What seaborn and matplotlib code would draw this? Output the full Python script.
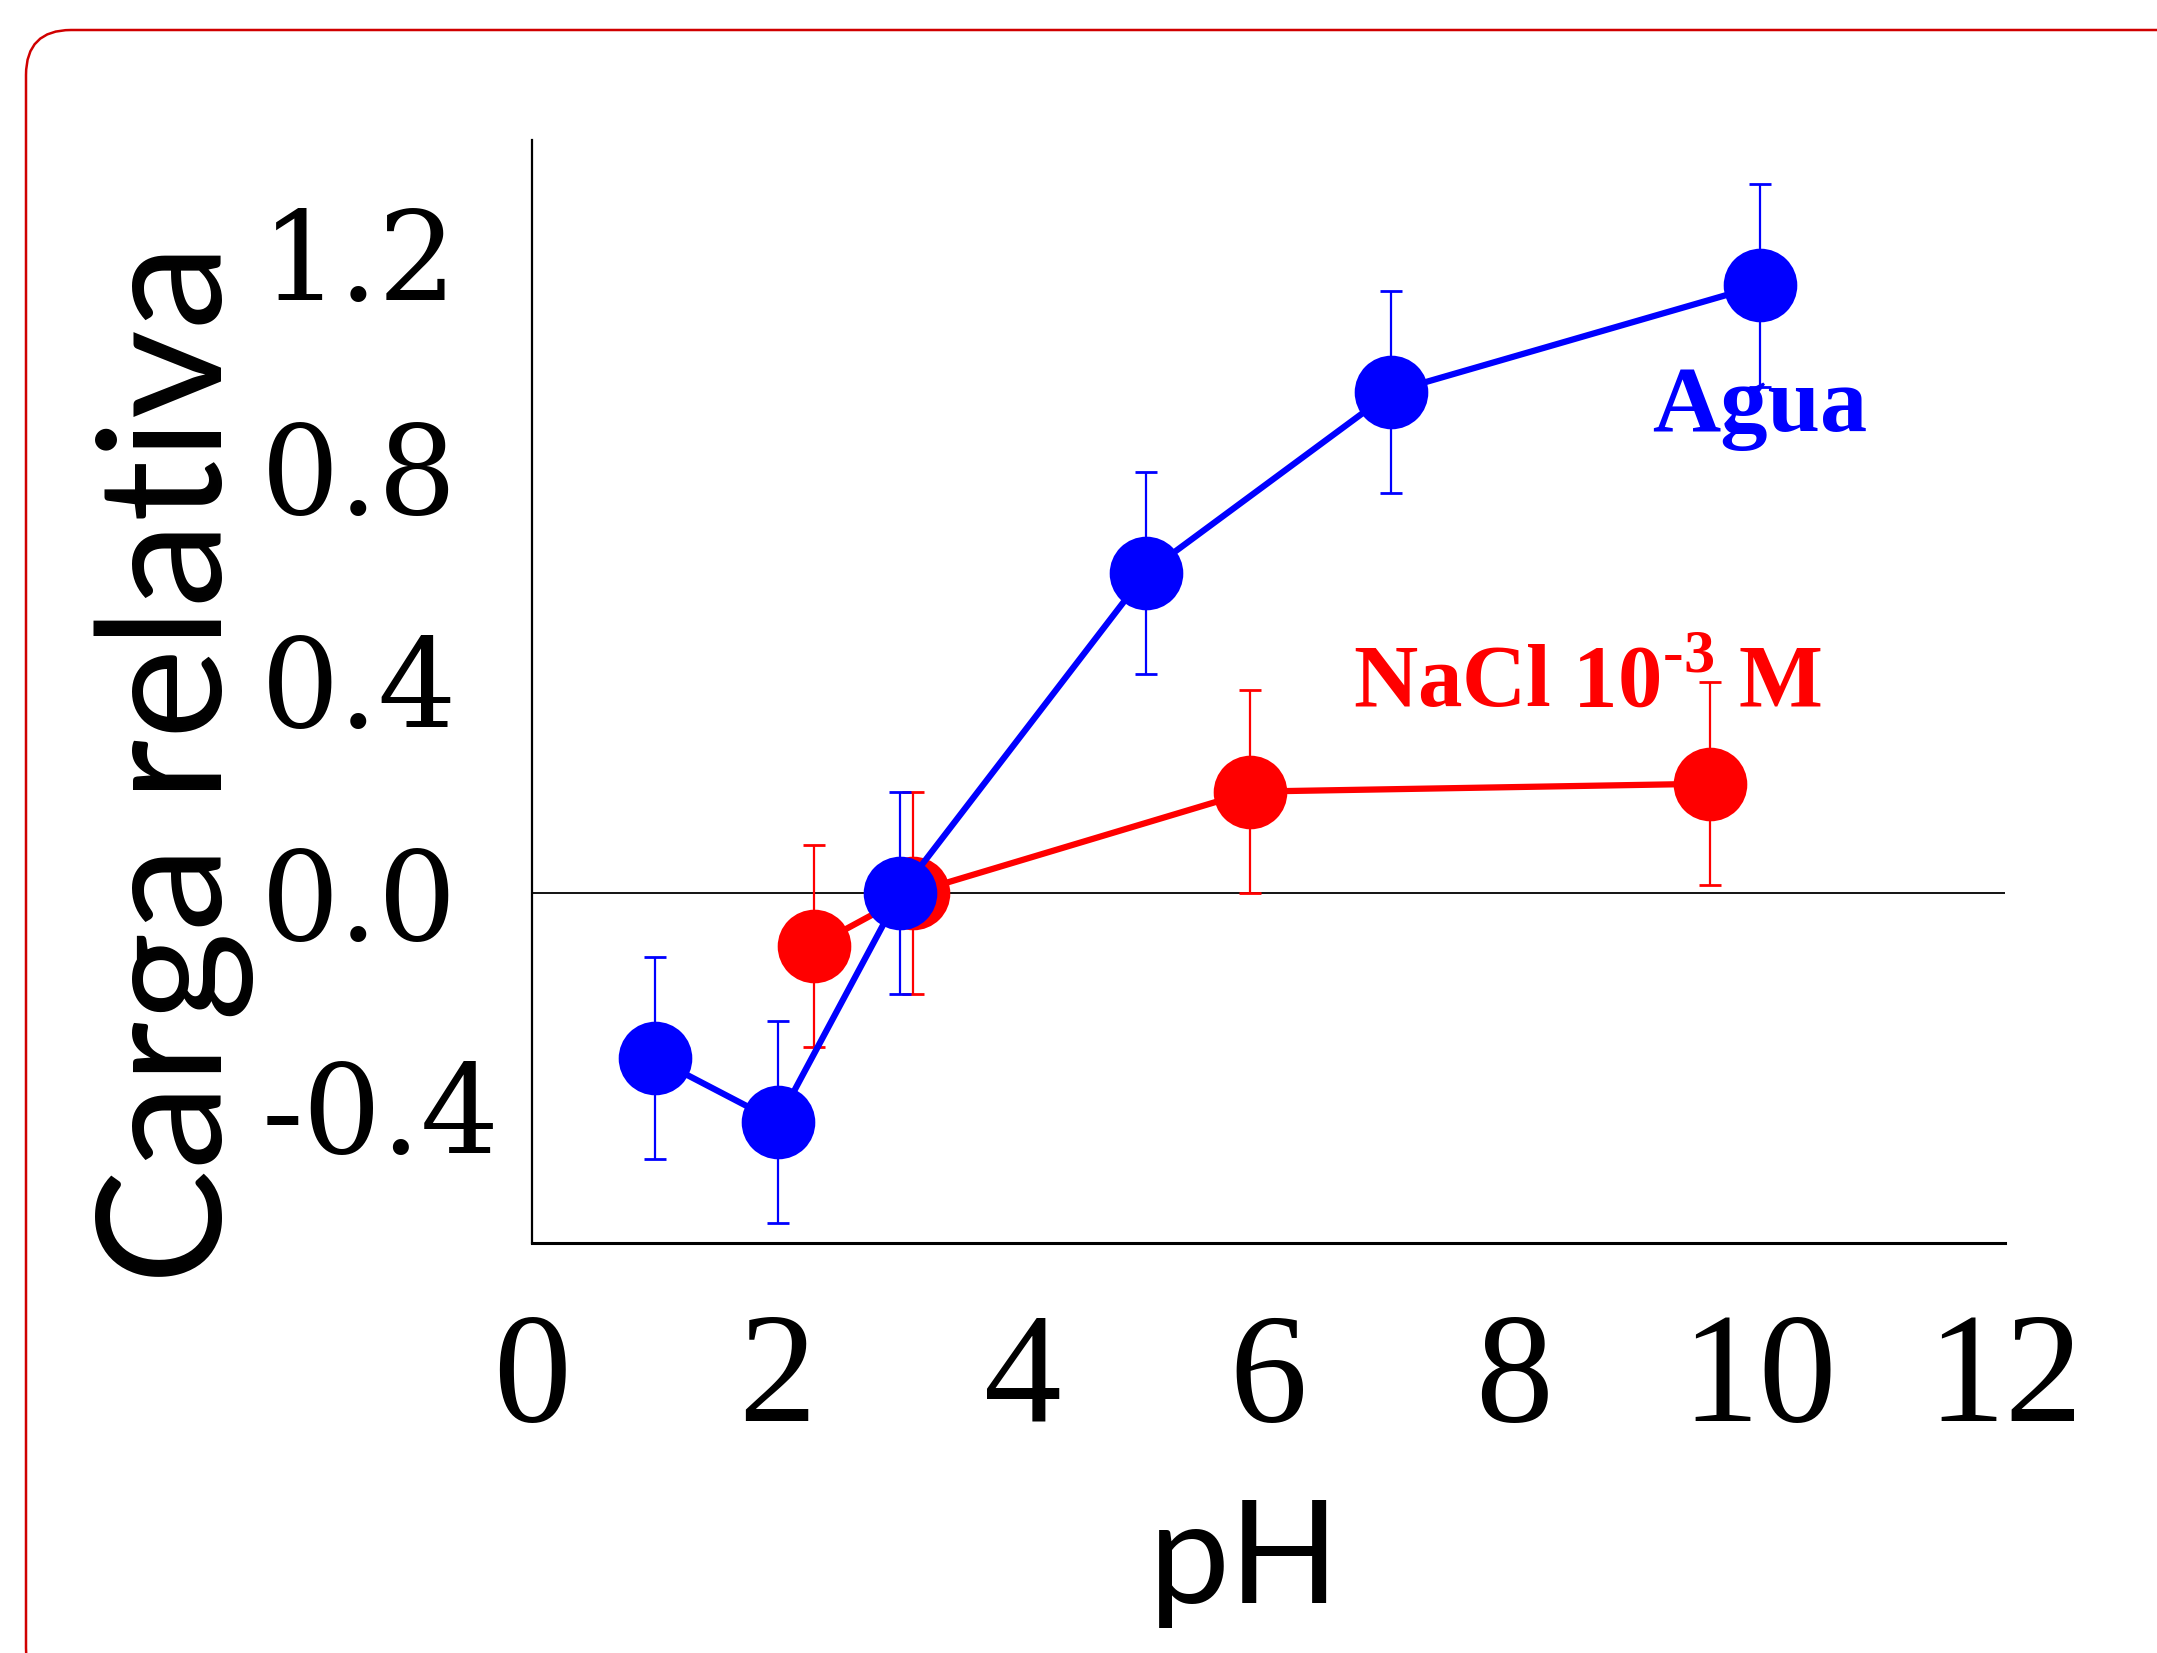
import matplotlib
matplotlib.use("Agg")
import matplotlib.pyplot as plt
from matplotlib.patches import FancyBboxPatch
from matplotlib.transforms import IdentityTransform
import seaborn as sns
import pandas as pd

# ---- data ----
agua_ph = [1.0, 2.0, 3.0, 5.0, 7.0, 10.0]
agua_carga = [-0.31, -0.43, 0.0, 0.60, 0.94, 1.14]
agua_err = [0.19, 0.19, 0.19, 0.19, 0.19, 0.19]

nacl_ph = [2.3, 3.1, 5.85, 9.6]
nacl_carga = [-0.10, 0.0, 0.19, 0.205]
nacl_err = [0.19, 0.19, 0.19, 0.19]

x_ticks = [0, 2, 4, 6, 8, 10, 12]
x_ticklabels = ["0", "2", "4", "6", "8", "10", "12"]
y_ticks = [-0.4, 0.0, 0.4, 0.8, 1.2]
y_ticklabels = ["-0.4", "0.0", "0.4", "0.8", "1.2"]

label_agua = "Agua"
label_nacl = r"NaCl 10$^{\text{-3}}$ M"
xlabel = "pH"
ylabel = "Carga relativa"

BLUE = "#0000ff"
RED = "#ff0000"

sns.set_theme(style="white")
plt.rcParams["mathtext.fontset"] = "custom"
plt.rcParams["mathtext.rm"] = "Liberation Serif:bold"
plt.rcParams["mathtext.bf"] = "Liberation Serif:bold"
plt.rcParams["text.color"] = "black"
plt.rcParams["xtick.color"] = "black"
plt.rcParams["ytick.color"] = "black"
plt.rcParams["axes.labelcolor"] = "black"

W, H, DPI = 2157, 1653, 100
fig = plt.figure(figsize=(W / DPI, H / DPI), dpi=DPI)
fig.patch.set_facecolor("white")
ax = fig.add_axes([532 / W, 1 - 1243 / H, (2005 - 532) / W, (1243 - 140) / H])
ax.set_facecolor("white")

df_a = pd.DataFrame({"pH": agua_ph, "carga": agua_carga})
df_n = pd.DataFrame({"pH": nacl_ph, "carga": nacl_carga})

ax.axhline(0, color="black", lw=1.3, zorder=1)

ax.errorbar(nacl_ph, nacl_carga, yerr=nacl_err, fmt="none", ecolor=RED,
            elinewidth=1.6, capsize=8, capthick=2, zorder=2)
sns.lineplot(data=df_n, x="pH", y="carga", ax=ax, color=RED, linewidth=4.5,
             marker="o", markersize=53, markeredgewidth=0, zorder=3)
ax.errorbar(agua_ph, agua_carga, yerr=agua_err, fmt="none", ecolor=BLUE,
            elinewidth=1.6, capsize=8, capthick=2, zorder=4)
sns.lineplot(data=df_a, x="pH", y="carga", ax=ax, color=BLUE, linewidth=4.5,
             marker="o", markersize=53, markeredgewidth=0, zorder=5)

ax.set_xlim(0, 12)
ax.set_ylim(-0.657, 1.413)

ax.set_xticks(x_ticks)
ax.set_xticklabels(x_ticklabels, fontfamily="Liberation Serif", fontsize=112, color="black")
ax.set_yticks(y_ticks)
ax.set_yticklabels(y_ticklabels, fontfamily="DejaVu Serif", fontsize=89, color="black")
for t in ax.get_yticklabels():
    t.set_horizontalalignment("left")
ax.tick_params(axis="y", length=0, pad=195)
ax.tick_params(axis="x", length=0, pad=50)

for s in ["top", "right"]:
    ax.spines[s].set_visible(False)
ax.spines["left"].set_linewidth(1.6)
ax.spines["bottom"].set_linewidth(2.2)
ax.spines["left"].set_color("black")
ax.spines["bottom"].set_color("black")

ax.set_xlabel(xlabel, fontfamily="Lato", fontsize=104, color="black")
ax.xaxis.set_label_coords(0.484, -0.29)
ax.xaxis.label.set_va("center")
ax.set_ylabel(ylabel, fontfamily="Lato", fontsize=124, color="black")
ax.yaxis.set_label_coords(-0.243, 0.435)
ax.yaxis.label.set_va("center")

ax.text(10.0, 0.91, label_agua, color=BLUE, fontsize=68, fontweight="bold",
        fontfamily="Liberation Serif", ha="center", va="center", zorder=6)
ax.text(8.6, 0.39, label_nacl, color=RED, fontsize=64, fontweight="bold",
        fontfamily="Liberation Serif", ha="center", va="center", zorder=6)

border = FancyBboxPatch((26, -40), 2300, 1623 + 40, boxstyle="round,pad=0,rounding_size=45",
                        transform=IdentityTransform(), fill=False,
                        edgecolor="#d00000", linewidth=1.8)
fig.add_artist(border)

fig.savefig("out.png", dpi=DPI, facecolor="white")
